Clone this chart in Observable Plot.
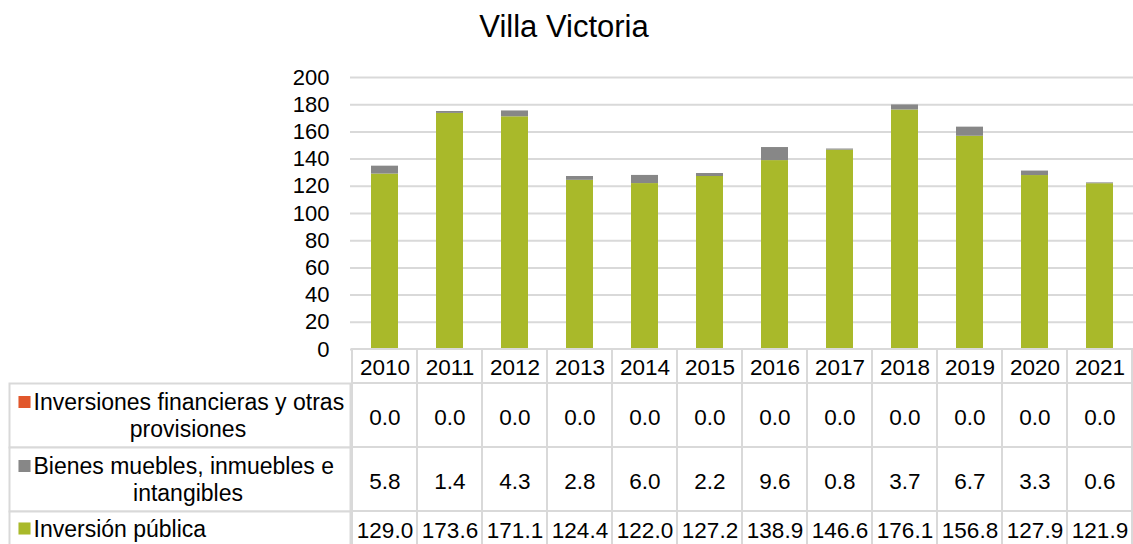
<!DOCTYPE html>
<html><head><meta charset="utf-8">
<script src="https://cdn.jsdelivr.net/npm/d3@7"></script>
<script src="https://cdn.jsdelivr.net/npm/@observablehq/plot@0.6"></script>
<style>
body{margin:0;background:#fff;font-family:"Liberation Sans",Arial,sans-serif;}
#title{height:60px;width:1128px;text-align:center;font-size:31px;line-height:54px;color:#000;}
.row{display:flex;}
svg{display:block;overflow:visible;}
</style></head><body>
<div id="title">Villa Victoria</div>
<div id="chart"></div>
<script>
const years = ["2010","2011","2012","2013","2014","2015","2016","2017","2018","2019","2020","2021"];
const seriesNames = ["Inversiones financieras y otras provisiones","Bienes muebles, inmuebles e intangibles","Inversión pública"];
const financieras = [0.0,0.0,0.0,0.0,0.0,0.0,0.0,0.0,0.0,0.0,0.0,0.0];
const bienes = [5.8,1.4,4.3,2.8,6.0,2.2,9.6,0.8,3.7,6.7,3.3,0.6];
const publica = [129.0,173.6,171.1,124.4,122.0,127.2,138.9,146.6,176.1,156.8,127.9,121.9];
const labelLines = [["Inversiones financieras y otras","provisiones"],["Bienes muebles, inmuebles e","intangibles"],["Inversión pública"]];
const colors = ["#e1572b","#878787","#a9b92a"];
const yTicks = [0,20,40,60,80,100,120,140,160,180,200];

const FONT = '"Liberation Sans", Arial, sans-serif';
const GRID = "#d9d9d9";
const FS = 22;
const FS_TABLE = 22.5;
const FS_LABEL = 23;
const valuesBySeries = [financieras, bienes, publica];

// long data, bottom of stack first
const long = [];
[2,1,0].forEach(s => years.forEach((yr,i) => long.push({year: yr, series: seriesNames[s], value: valuesBySeries[s][i]})));

const root = document.getElementById("chart");

const chart = Plot.plot({
  width: 1133, height: 289, marginLeft: 350, marginRight: 0, marginTop: 17, marginBottom: 0,
  style: {fontFamily: FONT, color: "#000", background: "transparent", overflow: "visible"},
  x: {domain: years, paddingInner: 0.59, paddingOuter: 0.295, axis: null},
  y: {domain: [0, 200]},
  color: {domain: seriesNames, range: colors},
  marks: [
    Plot.gridY(yTicks, {stroke: GRID, strokeOpacity: 1, strokeWidth: 2}),
    Plot.axisY(yTicks, {tickSize: 0, tickPadding: 21, label: null, fontSize: FS}),
    Plot.barY(long, {x: "year", y: "value", fill: "series", inset: 0})
  ]
});
root.appendChild(chart);

// header row
const header = Plot.plot({
  width: 1133, height: 34, marginLeft: 350, marginRight: 0, marginTop: 0, marginBottom: 0,
  style: {fontFamily: FONT, color: "#000", background: "transparent", overflow: "visible"},
  x: {domain: years, padding: 0, axis: null},
  marks: [
    Plot.cell(years, {x: d => d, fill: "white", stroke: GRID, strokeWidth: 2, inset: 0}),
    Plot.text(years, {x: d => d, text: d => d, fontSize: FS_TABLE, frameAnchor: "middle", dy: 1})
  ]
});
root.appendChild(header);

// body rows
[0,1,2].forEach(s => {
  const lines = labelLines[s];
  const h = lines.length * 30 + 4;
  const row = document.createElement("div");
  row.className = "row";
  const off = lines.length > 1 ? 13.5 : 0;
  const labelMarks = [
    Plot.frame({stroke: GRID, strokeWidth: 2, fill: "white"}),
    Plot.dot([0], {frameAnchor: "left", dx: 15, dy: -off, symbol: "square", r: 6.8, fill: colors[s], stroke: "none"}),
    Plot.text([lines[0]], {text: d => d, frameAnchor: "left", textAnchor: "start", dx: 24, dy: -off + 1, fontSize: FS_LABEL})
  ];
  if (lines.length > 1) {
    labelMarks.push(Plot.text([lines[1]], {text: d => d, frameAnchor: "middle", textAnchor: "middle", dx: 8, dy: off + 1, fontSize: FS_LABEL}));
  }
  const lab = Plot.plot({
    width: 350, height: h, marginLeft: 9, marginRight: 0, marginTop: 0, marginBottom: 0,
    style: {fontFamily: FONT, color: "#000", background: "transparent", overflow: "visible"},
    marks: labelMarks
  });
  const vals = years.map((yr, i) => ({year: yr, v: valuesBySeries[s][i]}));
  const val = Plot.plot({
    width: 783, height: h, marginLeft: 0, marginRight: 0, marginTop: 0, marginBottom: 0,
    style: {fontFamily: FONT, color: "#000", background: "transparent", overflow: "visible"},
    x: {domain: years, padding: 0, axis: null},
    marks: [
      Plot.cell(vals, {x: "year", fill: "white", stroke: GRID, strokeWidth: 2, inset: 0}),
      Plot.text(vals, {x: "year", text: d => d.v.toFixed(1), fontSize: FS_TABLE, frameAnchor: "middle", dy: 2})
    ]
  });
  row.appendChild(lab);
  row.appendChild(val);
  root.appendChild(row);
});
</script>
</body></html>
